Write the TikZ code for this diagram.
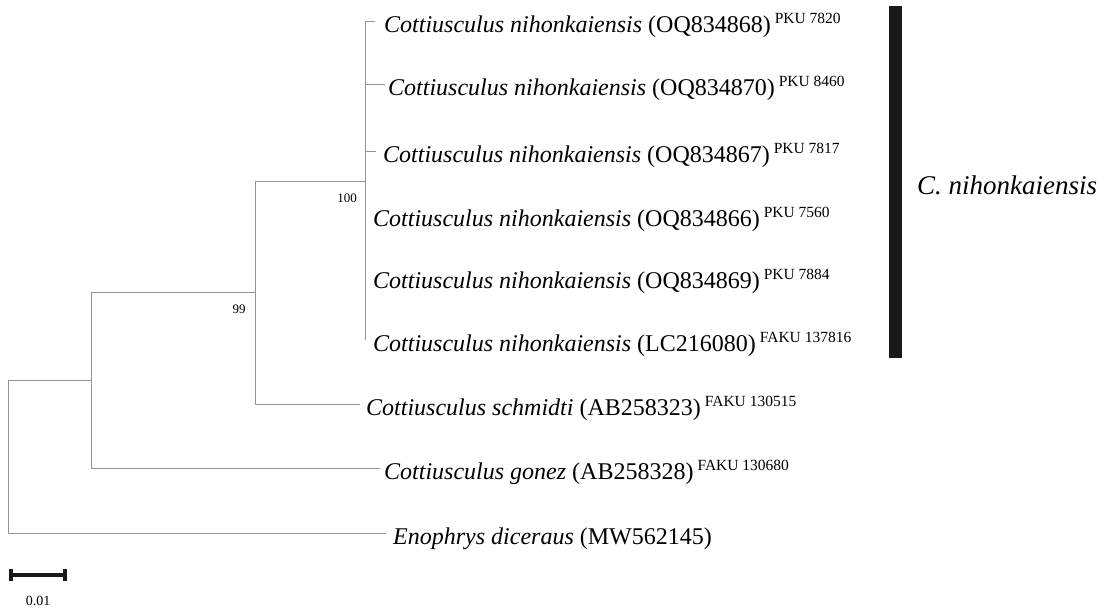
\documentclass[tikz,border=0pt]{standalone}
\usepackage{fontspec}
\setmainfont{Liberation Serif}
\begin{document}
\begin{tikzpicture}[x=1pt,y=-1pt,
  br/.style={draw=black!42,line width=0.8pt},
  tiplab/.style={anchor=base west,inner sep=0pt,font=\fontsize{24}{24}\selectfont},
  boot/.style={inner sep=0pt,font=\fontsize{13}{13}\selectfont},
  sbar/.style={line width=3.2pt,black!90}]
\newcommand{\spm}[1]{\,\raisebox{8.5pt}{\fontsize{15.5}{15.5}\selectfont #1}}
\useasboundingbox[fill=white] (0,0) rectangle (1105,611);
% internal nodes
\coordinate (root) at (8,380);
\coordinate (rootb) at (8,533);
\coordinate (n1) at (91,380);
\coordinate (n1t) at (91,292);
\coordinate (n1b) at (91,468);
\coordinate (n2) at (255,292);
\coordinate (n2t) at (255,181);
\coordinate (n2b) at (255,404);
\coordinate (n3) at (365,181);
\coordinate (n3t) at (365,21);
\coordinate (n3b) at (365,340);
\coordinate (c1) at (365,84);
\coordinate (c2) at (365,151);
% tips
\coordinate (t1) at (375,21);
\coordinate (t2) at (385,84);
\coordinate (t3) at (376,151);
\coordinate (t7) at (360,404);
\coordinate (t8) at (380,468);
\coordinate (t9) at (386,533);
% branches
\draw[br] (root) -- (rootb) -- (t9);
\draw[br] (root) -- (n1);
\draw[br] (n1t) -- (n1b) -- (t8);
\draw[br] (n1t) -- (n2);
\draw[br] (n2t) -- (n2b) -- (t7);
\draw[br] (n2t) -- (n3);
\draw[br] (n3t) -- (n3b);
\draw[br] (n3t) -- (t1);
\draw[br] (c1) -- (t2);
\draw[br] (c2) -- (t3);
% labels
\node[tiplab] (l1) at (384,32) {\textit{Cottiusculus nihonkaiensis} (OQ834868)\spm{PKU 7820}};
\node[tiplab] (l2) at (388,95) {\textit{Cottiusculus nihonkaiensis} (OQ834870)\spm{PKU 8460}};
\node[tiplab] (l3) at (383,162) {\textit{Cottiusculus nihonkaiensis} (OQ834867)\spm{PKU 7817}};
\node[tiplab] (l4) at (373,226) {\textit{Cottiusculus nihonkaiensis} (OQ834866)\spm{PKU 7560}};
\node[tiplab] (l5) at (373,288) {\textit{Cottiusculus nihonkaiensis} (OQ834869)\spm{PKU 7884}};
\node[tiplab] (l6) at (373,351) {\textit{Cottiusculus nihonkaiensis} (LC216080)\spm{FAKU 137816}};
\node[tiplab] (l7) at (366,415) {\textit{Cottiusculus schmidti} (AB258323)\spm{FAKU 130515}};
\node[tiplab] (l8) at (384,479) {\textit{Cottiusculus gonez} (AB258328)\spm{FAKU 130680}};
\node[tiplab] (l9) at (393,544) {\textit{Enophrys diceraus} (MW562145)};
% bootstrap
\node[boot] (b100) at (347,198) {100};
\node[boot] (b99) at (239,309) {99};
% clade bar
\fill[black!90] (889,6) rectangle (902,358);
\node[anchor=base west,inner sep=0pt,font=\fontsize{27}{27}\selectfont] (clade) at (917,194) {\textit{C. nihonkaiensis}};
% scale bar
\coordinate (s0) at (11,575);
\coordinate (s1) at (65,575);
\draw[sbar] (s0) -- (s1);
\draw[sbar] ([yshift=-6pt]s0) -- ([yshift=6pt]s0);
\draw[sbar] ([yshift=-6pt]s1) -- ([yshift=6pt]s1);
\node[inner sep=0pt,font=\fontsize{14}{14}\selectfont] (sl) at (38,601) {0.01};
\end{tikzpicture}
\end{document}
